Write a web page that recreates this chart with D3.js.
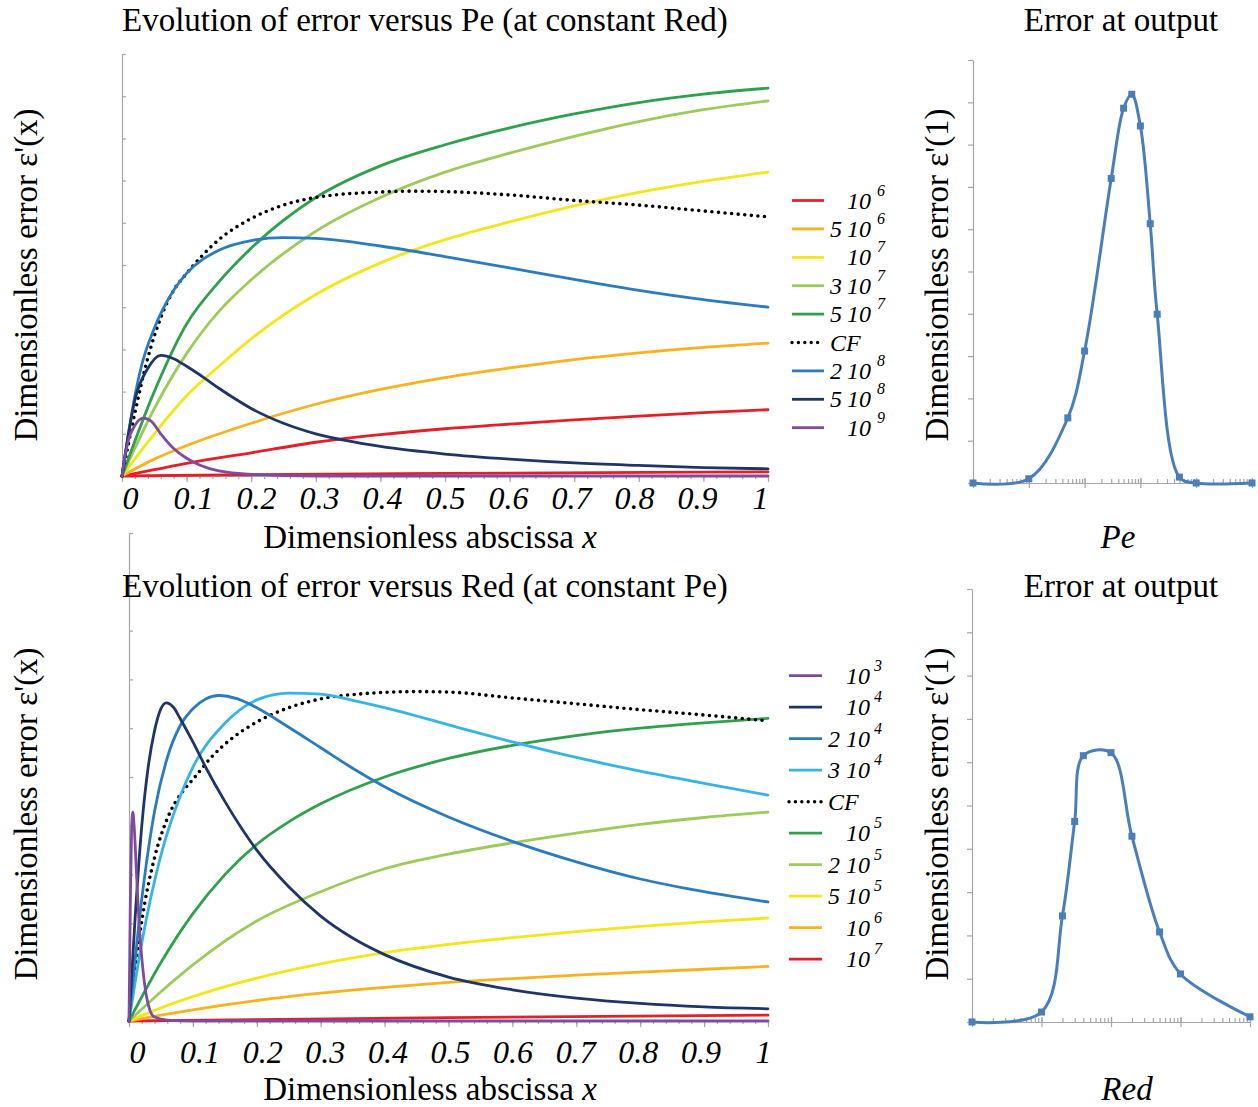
<!DOCTYPE html>
<html>
<head>
<meta charset="utf-8">
<script src="https://cdn.jsdelivr.net/npm/d3@7"></script>
<style>
body { margin: 0; background: #fff; }
svg text { font-family: "Liberation Serif", "Times New Roman", serif; fill: #000; }
.axis path, .axis line { stroke: #a6a6a6; stroke-width: 1.2; }
</style>
</head>
<body>
<div id="chart"></div>
<script>
// ---- top panel: error along x for several Pe (Red fixed), [x, error] ----
var pe1e6 = [[0,0],[0.2,0.03],[0.5,0.06],[1,0.1]];
var pe5e6 = [[0,0],[0.05,0.15],[0.1,0.3],[0.2,0.55],[0.3,0.8],[0.4,0.98],[0.5,1.12],[0.6,1.23],[0.7,1.33],[0.8,1.42],[0.9,1.5],[1,1.57]];
var pe1e7 = [[0,0],[0.05,0.4],[0.1,0.72],[0.2,1.25],[0.3,1.7],[0.4,2.05],[0.5,2.33],[0.6,2.56],[0.7,2.76],[0.8,2.92],[0.9,3.05],[1,3.15]];
var pe3e7 = [[0,0],[0.05,1.0],[0.1,1.9],[0.15,2.6],[0.2,3.25],[0.3,4.3],[0.4,5.05],[0.5,5.6],[0.6,6.02],[0.7,6.4],[0.8,6.72],[0.9,6.98],[1,7.2]];
var pe5e7 = [[0,0],[0.05,1.6],[0.1,2.9],[0.15,3.9],[0.2,4.65],[0.3,5.8],[0.4,6.6],[0.5,7.2],[0.6,7.65],[0.7,8.05],[0.8,8.4],[0.9,8.68],[1,8.89]];
var pe7e7 = [[0,0],[0.05,2.0],[0.1,3.6],[0.15,4.6],[0.2,5.4],[0.3,6.6],[0.4,7.35],[0.5,7.85],[0.6,8.25],[0.7,8.58],[0.8,8.85],[0.9,9.05],[1,9.19]];
var peCF  = [[0,0],[0.02,1.5],[0.04,2.8],[0.06,3.75],[0.08,4.4],[0.1,4.8],[0.15,5.6],[0.2,6.1],[0.25,6.42],[0.3,6.6],[0.4,6.73],[0.45,6.75],[0.5,6.74],[0.6,6.66],[0.7,6.53],[0.8,6.42],[0.9,6.28],[1,6.14]];
var pe2e8 = [[0,0],[0.01,1.0],[0.02,1.9],[0.03,2.6],[0.05,3.5],[0.08,4.4],[0.1,4.8],[0.15,5.35],[0.2,5.58],[0.25,5.65],[0.3,5.63],[0.4,5.45],[0.5,5.2],[0.6,4.93],[0.7,4.66],[0.8,4.4],[0.9,4.18],[1,4.0]];
var pe5e8 = [[0,0],[0.01,1.0],[0.02,1.8],[0.04,2.55],[0.06,2.86],[0.08,2.78],[0.1,2.6],[0.125,2.35],[0.15,2.08],[0.175,1.83],[0.2,1.6],[0.25,1.25],[0.3,1.0],[0.35,0.83],[0.4,0.7],[0.5,0.52],[0.6,0.4],[0.7,0.31],[0.8,0.25],[0.9,0.2],[1,0.17]];
var pe1e9 = [[0,0],[0.005,0.5],[0.01,0.85],[0.02,1.2],[0.033,1.37],[0.045,1.3],[0.06,1.0],[0.08,0.65],[0.1,0.42],[0.12,0.26],[0.15,0.12],[0.2,0.04],[0.3,0],[1,0]];

var peLegend = [["",6],["5",6],["",7],["3",7],["5",7],["CF",null],["2",8],["5",8],["",9]];

// ---- bottom panel: error along x for several Red (Pe fixed) ----
var red1e3 = [[0,0],[0.002,2.3],[0.004,3.9],[0.006,4.28],[0.008,4.0],[0.012,2.95],[0.016,1.95],[0.02,1.3],[0.025,0.7],[0.032,0.25],[0.04,0.08],[0.06,0.02],[0.1,0],[1,0]];
var red1e4 = [[0,0],[0.01,2.2],[0.02,4.0],[0.03,5.2],[0.04,5.95],[0.05,6.4],[0.058,6.52],[0.07,6.42],[0.08,6.2],[0.1,5.72],[0.12,5.2],[0.15,4.5],[0.2,3.5],[0.25,2.75],[0.3,2.15],[0.35,1.7],[0.4,1.36],[0.5,0.9],[0.6,0.64],[0.7,0.47],[0.8,0.36],[0.9,0.29],[1,0.25]];
var red2e4 = [[0,0],[0.02,2.5],[0.04,4.3],[0.06,5.4],[0.08,6.05],[0.1,6.4],[0.12,6.6],[0.14,6.67],[0.17,6.6],[0.2,6.42],[0.25,6.02],[0.3,5.6],[0.35,5.18],[0.4,4.8],[0.5,4.18],[0.6,3.68],[0.7,3.26],[0.8,2.91],[0.9,2.65],[1,2.44]];
var red3e4 = [[0,0],[0.02,1.6],[0.05,3.4],[0.08,4.6],[0.1,5.2],[0.15,6.1],[0.2,6.58],[0.25,6.72],[0.3,6.7],[0.35,6.57],[0.4,6.42],[0.5,6.07],[0.6,5.72],[0.7,5.4],[0.8,5.12],[0.9,4.87],[1,4.63]];
var redCF  = [[0,0],[0.01,1.1],[0.02,2.05],[0.04,3.35],[0.06,4.15],[0.085,4.72],[0.1,4.95],[0.13,5.42],[0.16,5.78],[0.19,6.05],[0.25,6.42],[0.3,6.6],[0.36,6.7],[0.45,6.75],[0.5,6.74],[0.6,6.62],[0.7,6.5],[0.8,6.38],[0.9,6.27],[1,6.15]];
var red1e5 = [[0,0],[0.05,1.2],[0.1,2.2],[0.15,3.0],[0.2,3.62],[0.25,4.08],[0.3,4.45],[0.4,5.0],[0.5,5.38],[0.6,5.65],[0.7,5.85],[0.8,6.0],[0.9,6.11],[1,6.2]];
var red2e5 = [[0,0],[0.05,0.6],[0.1,1.15],[0.2,2.05],[0.3,2.65],[0.4,3.12],[0.5,3.42],[0.6,3.65],[0.7,3.85],[0.8,4.03],[0.9,4.17],[1,4.28]];
var red5e5 = [[0,0],[0.05,0.27],[0.1,0.5],[0.2,0.88],[0.3,1.17],[0.4,1.4],[0.5,1.57],[0.6,1.71],[0.7,1.83],[0.8,1.94],[0.9,2.03],[1,2.11]];
var red1e6 = [[0,0],[0.05,0.12],[0.1,0.23],[0.2,0.42],[0.3,0.57],[0.4,0.69],[0.5,0.79],[0.6,0.87],[0.7,0.94],[0.8,1.0],[0.9,1.06],[1,1.12]];
var red1e7 = [[0,0],[0.2,0.03],[0.5,0.07],[1,0.12]];

var redLegend = [["",3],["",4],["2",4],["3",4],["CF",null],["",5],["2",5],["5",5],["",6],["",7]];

// ---- right panels: error at the outlet ----
var peValues = [1e5, 1e6, 5e6, 1e7, 3e7, 5e7, 7e7, 1e8, 1.5e8, 2e8, 5e8, 1e9, 1e10];
var peOutputError = [0, 0.10, 1.54, 3.12, 7.20, 8.86, 9.19, 8.44, 6.13, 3.99, 0.14, 0, 0];
var redValues = [1e3, 1e4, 2e4, 3e4, 4e4, 1e5, 2e5, 5e5, 1e6, 1e7];
var redOutputError = [0, 0.23, 2.45, 4.63, 6.15, 6.22, 4.29, 2.08, 1.11, 0.12];

var xTickValues = d3.range(0, 11).map(function(d){ return d / 10; });

// colours
var cRed = "#e41f27", cOrange = "#f9b21e", cYellow = "#f3e619", cLGreen = "#9ccb5a",
    cGreen = "#2fa14c", cBlue = "#2a7bbf", cNavy = "#1f3567", cPurple = "#7e4b9e",
    cLBlue = "#35b5e6", cCF = "#000", cExcel = "#4a7ebb";

var peSeries = [pe1e6, pe5e6, pe1e7, pe3e7, pe5e7, pe7e7, peCF, pe2e8, pe5e8, pe1e9];
var peSeriesColors = [cRed, cRed, cOrange, cYellow, cLGreen, cGreen, cCF, cBlue, cNavy, cPurple];
var peLegendColors = [cRed, cOrange, cYellow, cLGreen, cGreen, cCF, cBlue, cNavy, cPurple];

var redSeries = [red1e7, red1e6, red5e5, red2e5, red1e5, redCF, red3e4, red2e4, red1e4, red1e3];
var redSeriesColors = [cRed, cOrange, cYellow, cLGreen, cGreen, cCF, cLBlue, cBlue, cNavy, cPurple];
var redLegendColors = [cPurple, cNavy, cBlue, cLBlue, cCF, cGreen, cLGreen, cYellow, cOrange, cRed];

var FS = 33; // main text size

var svg = d3.select("#chart").append("svg")
    .attr("width", 1258)
    .attr("height", 1107);

function curvePanel(o) {
    var x = d3.scaleLinear().domain([0, 1]).range([o.left, o.right]);
    var y = d3.scaleLinear().domain([0, 10]).range([o.base, o.top]);
    var xLab = d3.scaleLinear().domain([0, 1]).range(o.labelRange);

    // y axis, ticks inside
    svg.append("g").attr("class", "axis")
        .attr("transform", "translate(" + o.left + ",0)")
        .call(d3.axisRight(y).tickValues(d3.range(0, 11)).tickSize(4).tickSizeOuter(0).tickFormat(""));

    // x axis: minor + major ticks
    svg.append("g").attr("class", "axis")
        .attr("transform", "translate(0," + o.base + ")")
        .call(d3.axisBottom(x).tickValues(d3.range(0, 51).map(function(d){ return d / 50; }))
            .tickSize(3).tickSizeOuter(0).tickFormat(""));
    svg.append("g").attr("class", "axis")
        .attr("transform", "translate(0," + o.base + ")")
        .call(d3.axisBottom(x).tickValues(xTickValues).tickSize(6).tickSizeOuter(0).tickFormat(""));

    // tick labels
    var lab = svg.append("g")
        .attr("transform", "translate(0," + o.labelY + ")")
        .call(d3.axisBottom(xLab).tickValues(xTickValues).tickSize(0)
            .tickFormat(function(d){ return d === 0 ? "0" : d === 1 ? "1" : d3.format(".1f")(d); }));
    lab.select(".domain").remove();
    lab.selectAll("text")
        .attr("y", 0).attr("dy", 0)
        .attr("font-size", 32)
        .attr("font-style", "italic")
        .attr("font-family", "Liberation Serif")
        .attr("fill", "#000");

    var line = d3.line()
        .x(function(d){ return x(d[0]); })
        .y(function(d){ return y(d[1]); })
        .curve(d3.curveMonotoneX);

    o.series.forEach(function(s, i) {
        var isCF = o.colors[i] === cCF;
        svg.append("path")
            .datum(s)
            .attr("d", line)
            .attr("fill", "none")
            .attr("stroke", o.colors[i])
            .attr("stroke-width", isCF ? 3.6 : 2.8)
            .attr("stroke-linecap", "round")
            .attr("stroke-dasharray", isCF ? "0,6.6" : null);
    });

    svg.append("text")
        .attr("x", 122).attr("y", o.titleY)
        .attr("font-size", FS)
        .text(o.title);

    var xl = svg.append("text")
        .attr("x", o.xLabelX).attr("y", o.xLabelY)
        .attr("text-anchor", "middle")
        .attr("font-size", FS);
    xl.append("tspan").text("Dimensionless abscissa ");
    xl.append("tspan").attr("font-style", "italic").text("x");

    svg.append("text")
        .attr("transform", "translate(37," + o.yLabelY + ") rotate(-90)")
        .attr("text-anchor", "middle")
        .attr("font-size", FS)
        .text("Dimensionless error \u03b5'(x)");
}

function legend(rows, colors, o) {
    rows.forEach(function(r, i) {
        var yy = o.y0 + i * o.step;
        var isCF = colors[i] === cCF;
        svg.append("line")
            .attr("x1", o.x1).attr("x2", o.x2)
            .attr("y1", yy).attr("y2", yy)
            .attr("stroke", colors[i])
            .attr("stroke-width", isCF ? 3.4 : 2.8)
            .attr("stroke-linecap", isCF ? "round" : "butt")
            .attr("stroke-dasharray", isCF ? "0,6.4" : null);
        var t = svg.append("g")
            .attr("font-size", 24)
            .attr("font-style", "italic");
        if (r[1] === null) {
            t.append("text").attr("x", o.prefixX).attr("y", yy + 8).text(r[0]);
            return;
        }
        if (r[0] !== "") {
            t.append("text").attr("x", o.prefixX).attr("y", yy + 8).text(r[0]);
        }
        t.append("text").attr("x", o.baseEnd).attr("y", yy + 8)
            .attr("text-anchor", "end").text("10");
        t.append("text").attr("x", o.supX).attr("y", yy - 5)
            .attr("font-size", 16).text(r[1]);
    });
}

function outputPanel(o) {
    var x = d3.scaleLog().domain([o.values[0], o.values[o.values.length - 1]]).range([o.left, o.right]);
    var y = d3.scaleLinear().domain([0, 10]).range([o.base, o.top]);

    svg.append("g").attr("class", "axis")
        .attr("transform", "translate(" + o.left + ",0)")
        .call(d3.axisLeft(y).tickValues(d3.range(0, 11)).tickSize(5).tickSizeOuter(0).tickFormat(""));

    var allTicks = x.ticks();
    var majors = allTicks.filter(function(d){ return Math.abs(Math.log10(d) - Math.round(Math.log10(d))) < 1e-9; });
    svg.append("g").attr("class", "axis")
        .attr("transform", "translate(0," + o.base + ")")
        .call(d3.axisTop(x).tickValues(allTicks).tickSize(4).tickSizeOuter(0).tickFormat(""));
    svg.append("g").attr("class", "axis")
        .attr("transform", "translate(0," + (o.base - 5) + ")")
        .call(d3.axisBottom(x).tickValues(majors).tickSize(10).tickSizeOuter(0).tickFormat(""))
        .select(".domain").remove();

    var pts = o.values.map(function(v, i){ return [v, o.errors[i]]; });
    var line = d3.line()
        .x(function(d){ return x(d[0]); })
        .y(function(d){ return Math.min(y(d[1]), o.base); })
        .curve(d3.curveCatmullRom.alpha(0.5));

    svg.append("path")
        .datum(pts)
        .attr("d", line)
        .attr("fill", "none")
        .attr("stroke", cExcel)
        .attr("stroke-width", 3);

    svg.selectAll(null)
        .data(pts)
        .enter().append("rect")
        .attr("x", function(d){ return x(d[0]) - 3.5; })
        .attr("y", function(d){ return y(d[1]) - 3.5; })
        .attr("width", 7).attr("height", 7)
        .attr("fill", cExcel);

    svg.append("text")
        .attr("x", 1121).attr("y", o.titleY)
        .attr("text-anchor", "middle")
        .attr("font-size", FS)
        .text("Error at output");

    svg.append("text")
        .attr("x", o.xLabelX).attr("y", o.xLabelY)
        .attr("text-anchor", "middle")
        .attr("font-size", FS)
        .attr("font-style", "italic")
        .text(o.xLabel);

    svg.append("text")
        .attr("transform", "translate(948," + o.yLabelY + ") rotate(-90)")
        .attr("text-anchor", "middle")
        .attr("font-size", FS)
        .text("Dimensionless error \u03b5'(1)");
}

curvePanel({
    left: 122, right: 768, top: 54, base: 476,
    labelRange: [130, 760], labelY: 509,
    series: peSeries, colors: peSeriesColors,
    title: "Evolution of error versus Pe (at constant Red)", titleY: 31,
    xLabelX: 430, xLabelY: 548, yLabelY: 275
});
legend(peLegend, peLegendColors, {
    y0: 200.5, step: 28.4, x1: 792, x2: 824, prefixX: 830, baseEnd: 871, supX: 877
});

curvePanel({
    left: 129, right: 768, top: 533, base: 1021,
    labelRange: [137, 763], labelY: 1063,
    series: redSeries, colors: redSeriesColors,
    title: "Evolution of error versus Red (at constant Pe)", titleY: 597,
    xLabelX: 430, xLabelY: 1100, yLabelY: 814
});
legend(redLegend, redLegendColors, {
    y0: 675.7, step: 31.5, x1: 789, x2: 822, prefixX: 828, baseEnd: 870, supX: 874
});

outputPanel({
    values: peValues, errors: peOutputError,
    left: 973, right: 1252, top: 60, base: 483,
    titleY: 31, xLabel: "Pe", xLabelX: 1118, xLabelY: 548, yLabelY: 275
});
outputPanel({
    values: redValues, errors: redOutputError,
    left: 972, right: 1250, top: 589, base: 1022,
    titleY: 597, xLabel: "Red", xLabelX: 1127, xLabelY: 1100, yLabelY: 814
});
</script>
</body>
</html>
